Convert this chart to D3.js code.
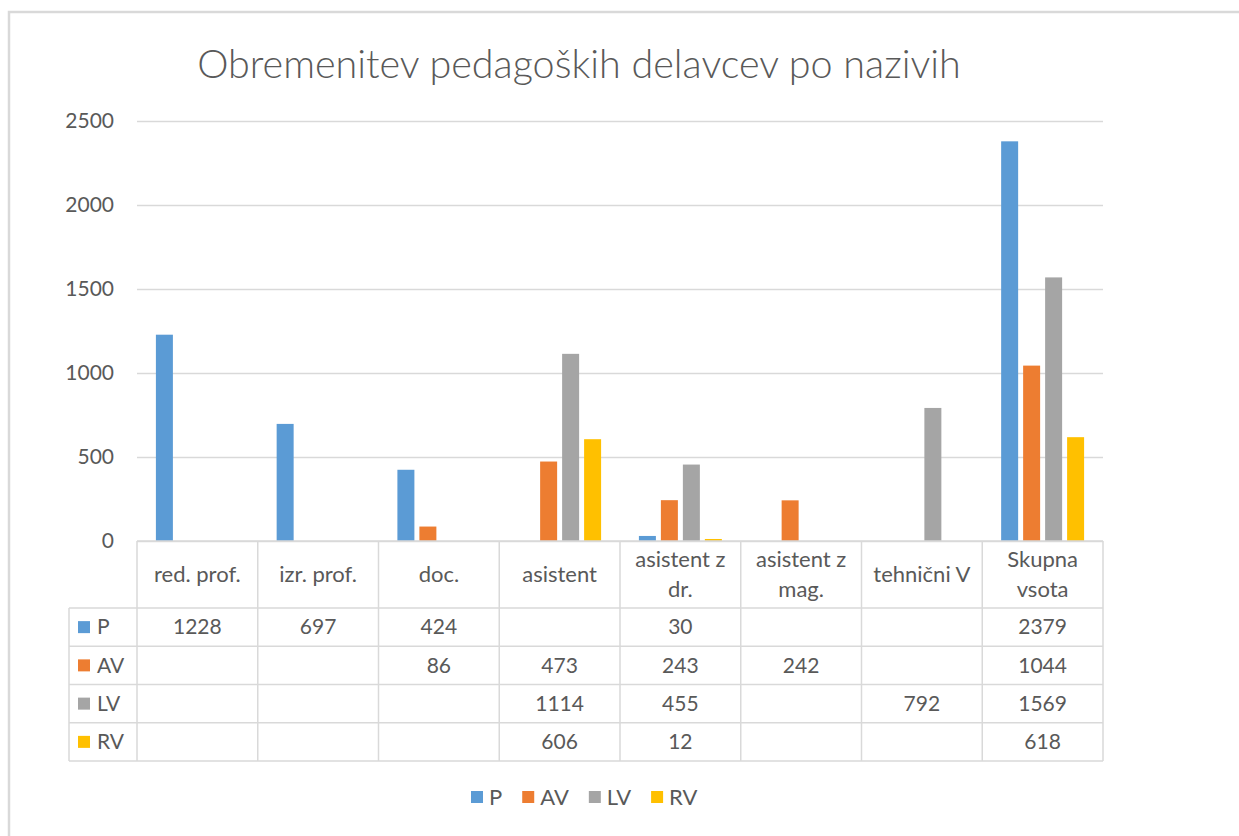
<!DOCTYPE html>
<html>
<head>
  <meta charset="utf-8">
  <title>Obremenitev pedagoških delavcev po nazivih</title>
  <style>
    body { margin: 0; background: #fff; }
    svg text { font-family: Lato, "Open Sans", sans-serif; fill: #595959; }
  </style>
</head>
<body>
  <div class="chart"></div>
  <script src="https://cdn.jsdelivr.net/npm/d3@7"></script>
  <script>
    var categories = [["red. prof."], ["izr. prof."], ["doc."], ["asistent"], ["asistent z", "dr."], ["asistent z", "mag."], ["tehnični V"], ["Skupna", "vsota"]];
    var seriesNames = ["P", "AV", "LV", "RV"];
    var seriesColors = ["#5B9BD5", "#ED7D31", "#A5A5A5", "#FFC000"];
    var valuesP = [1228, 697, 424, null, 30, null, null, 2379];
    var valuesAV = [null, null, 86, 473, 243, 242, null, 1044];
    var valuesLV = [null, null, null, 1114, 455, null, 792, 1569];
    var valuesRV = [null, null, null, 606, 12, null, null, 618];
    var yTicks = [0, 500, 1000, 1500, 2000, 2500];

    var allValues = [valuesP, valuesAV, valuesLV, valuesRV];
    var width = 1239, height = 836;
    var plotLeft = 137, plotRight = 1103, plotTop = 121, plotBottom = 541;
    var grid = "#d9d9d9";

    var svg = d3.select(".chart").append("svg")
      .attr("width", width)
      .attr("height", height);

    // outer chart border (only top and left are inside the picture)
    svg.append("rect")
      .attr("x", 9).attr("y", 12)
      .attr("width", 1400).attr("height", 1000)
      .attr("fill", "none").attr("stroke", grid).attr("stroke-width", 2.5);

    svg.append("text")
      .attr("x", 579).attr("y", 78)
      .attr("text-anchor", "middle")
      .style("font-size", "39.5px")
      .style("font-weight", 300)
      .text("Obremenitev pedagoških delavcev po nazivih");

    var y = d3.scaleLinear().domain([0, 2500]).range([plotBottom, plotTop]);

    var x0 = d3.scaleBand()
      .domain(d3.range(categories.length))
      .range([plotLeft, plotRight])
      .paddingInner(0.313)
      .paddingOuter(0.1565);

    var x1 = d3.scaleBand()
      .domain(seriesNames)
      .range([0, x0.bandwidth()])
      .paddingInner(0.227);

    var yAxis = svg.append("g")
      .attr("transform", "translate(" + plotLeft + ",0)")
      .call(d3.axisLeft(y).tickValues(yTicks).tickFormat(d3.format("d"))
        .tickSize(-(plotRight - plotLeft)).tickPadding(23));
    yAxis.select(".domain").remove();
    yAxis.selectAll("line").attr("stroke", grid).attr("stroke-width", 1.5);
    yAxis.selectAll("text").style("font-size", "21px").attr("fill", "#595959")
      .style("font-family", "Lato, sans-serif");

    // bars
    seriesNames.forEach(function (s, si) {
      svg.append("g")
        .selectAll("rect")
        .data(allValues[si].map(function (v, i) { return { i: i, v: v }; }).filter(function (d) { return d.v != null; }))
        .enter().append("rect")
        .attr("x", function (d) { return x0(d.i) + x1(s); })
        .attr("y", function (d) { return y(d.v); })
        .attr("width", x1.bandwidth())
        .attr("height", function (d) { return y(0) - y(d.v); })
        .attr("fill", seriesColors[si]);
    });

    // data table
    var step = x0.step();
    var headerBottom = 608, rowH = 38.25;
    var tableBottom = headerBottom + rowH * 4;
    var keyLeft = 69;
    var t = svg.append("g").attr("stroke", grid).attr("stroke-width", 1.5);

    // horizontal lines
    t.append("line").attr("x1", plotLeft).attr("x2", plotRight).attr("y1", plotBottom).attr("y2", plotBottom);
    d3.range(5).forEach(function (r) {
      var yy = headerBottom + r * rowH;
      t.append("line").attr("x1", keyLeft).attr("x2", plotRight).attr("y1", yy).attr("y2", yy);
    });
    // vertical lines
    d3.range(categories.length + 1).forEach(function (c) {
      var xx = plotLeft + c * step;
      t.append("line").attr("x1", xx).attr("x2", xx).attr("y1", plotBottom).attr("y2", tableBottom);
    });
    t.append("line").attr("x1", keyLeft).attr("x2", keyLeft).attr("y1", headerBottom).attr("y2", tableBottom);

    // header labels
    categories.forEach(function (lines, i) {
      var cx = plotLeft + (i + 0.5) * step;
      var cy = (plotBottom + headerBottom) / 2;
      var txt = svg.append("text")
        .attr("x", cx)
        .attr("text-anchor", "middle")
        .style("font-size", "22px");
      lines.forEach(function (l, k) {
        txt.append("tspan")
          .attr("x", cx)
          .attr("y", cy + (k - (lines.length - 1) / 2) * 30)
          .attr("dy", "0.35em")
          .text(l);
      });
    });

    // rows
    seriesNames.forEach(function (s, si) {
      var cy = headerBottom + (si + 0.5) * rowH;
      svg.append("rect")
        .attr("x", 78).attr("y", cy - 6)
        .attr("width", 12).attr("height", 12)
        .attr("fill", seriesColors[si]);
      svg.append("text")
        .attr("x", 97).attr("y", cy).attr("dy", "0.35em")
        .style("font-size", "21px")
        .text(s);
      allValues[si].forEach(function (v, i) {
        if (v == null) return;
        svg.append("text")
          .attr("x", plotLeft + (i + 0.5) * step)
          .attr("y", cy).attr("dy", "0.35em")
          .attr("text-anchor", "middle")
          .style("font-size", "21px")
          .text(v);
      });
    });

    // legend
    var legend = svg.append("g");
    var lx = 471, ly = 797;
    seriesNames.forEach(function (s, si) {
      legend.append("rect")
        .attr("x", lx).attr("y", ly - 6)
        .attr("width", 12).attr("height", 12)
        .attr("fill", seriesColors[si]);
      var tx = legend.append("text")
        .attr("x", lx + 18).attr("y", ly).attr("dy", "0.35em")
        .style("font-size", "22px")
        .text(s);
      lx += 18 + tx.node().getComputedTextLength() + 20;
    });
  </script>
</body>
</html>
